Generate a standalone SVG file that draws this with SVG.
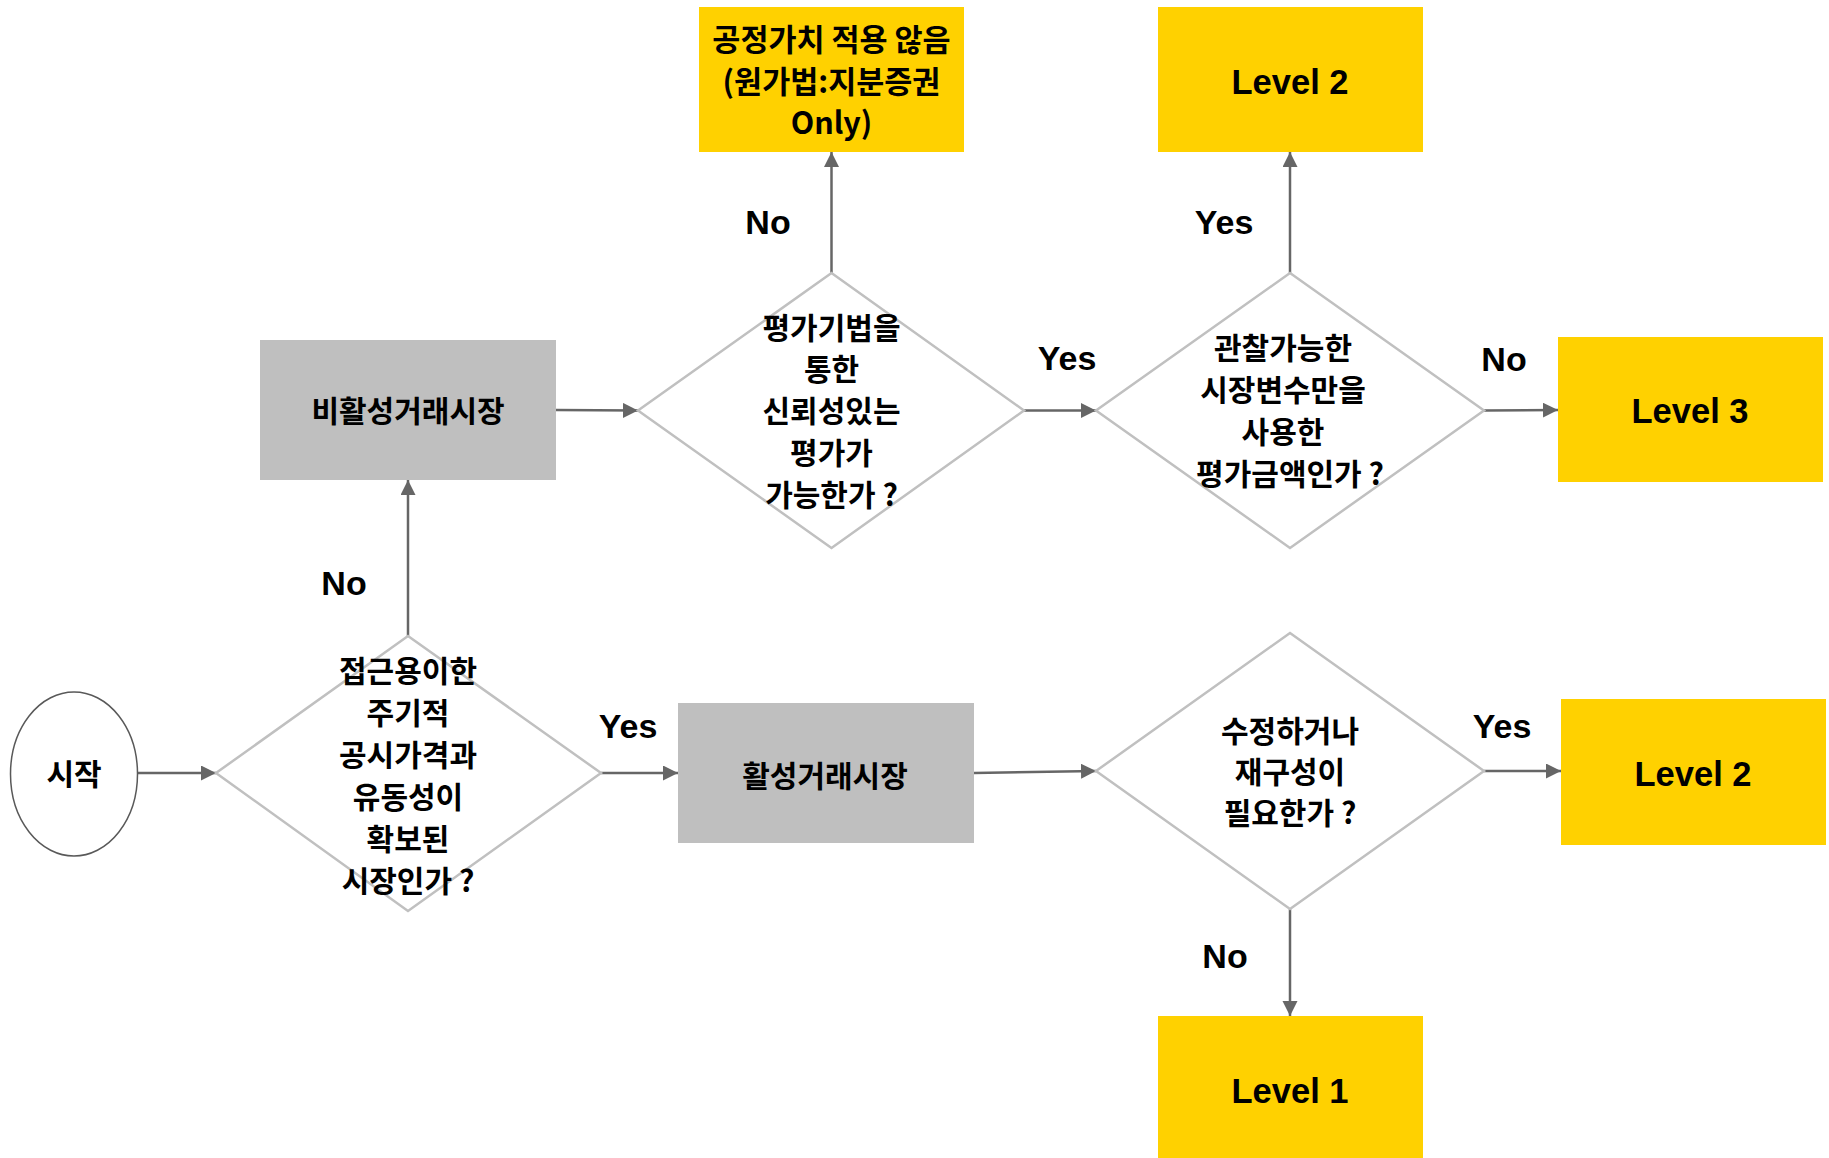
<svg xmlns="http://www.w3.org/2000/svg" width="1829" height="1158" viewBox="0 0 1829 1158">
<style>
.dia{fill:#fff;stroke:#c0c0c0;stroke-width:2.5}
.gray{fill:#bfbfbf}
.yel{fill:#ffd100}
.t{font-family:"Noto Sans CJK KR","Liberation Sans",sans-serif;font-size:30px;font-weight:700;fill:#000;text-anchor:middle}
.tb{font-family:"Noto Sans CJK KR","Liberation Sans",sans-serif;font-size:30.5px;font-weight:700;fill:#000;text-anchor:middle}
.lv{font-family:"Liberation Sans",Arial,sans-serif;font-size:34.5px;font-weight:700;fill:#000;text-anchor:middle}
.lb{font-family:"Liberation Sans",Arial,sans-serif;font-size:34px;font-weight:700;fill:#000;text-anchor:middle}
.c{fill:none;stroke:#666;stroke-width:2.5;marker-end:url(#ah)}
</style>
<defs>
<marker id="ah" markerUnits="userSpaceOnUse" markerWidth="17" markerHeight="16" refX="15" refY="7.5" orient="auto">
<path d="M0,0 L15,7.5 L0,15 z" fill="#666"/>
</marker>
</defs>
<rect width="1829" height="1158" fill="#fff"/>
<g id="connectors">
<line class="c" x1="137" y1="773" x2="216" y2="773"/>
<line class="c" x1="601" y1="773" x2="678" y2="773"/>
<line class="c" x1="408" y1="636" x2="408" y2="480"/>
<line class="c" x1="556" y1="410" x2="638" y2="410.5"/>
<line class="c" x1="831.5" y1="273" x2="831.5" y2="152"/>
<line class="c" x1="1024" y1="410.5" x2="1096" y2="410.5"/>
<line class="c" x1="1290" y1="273" x2="1290" y2="152"/>
<line class="c" x1="1484" y1="410.5" x2="1558" y2="410"/>
<line class="c" x1="974" y1="773" x2="1096" y2="771"/>
<line class="c" x1="1484" y1="771" x2="1561" y2="771"/>
<line class="c" x1="1290" y1="909" x2="1290" y2="1016"/>
</g>
<g id="start">
<ellipse cx="74" cy="774" rx="63.5" ry="82" fill="#fff" stroke="#595959" stroke-width="1.5"/>
<text class="t" x="74" y="785">시작</text>
</g>
<g id="q1">
<polygon class="dia" points="408,636 601,773 408,911 216,773"/>
<text class="t" x="408" y="682">접근용이한</text>
<text class="t" x="408" y="724">주기적</text>
<text class="t" x="408" y="766">공시가격과</text>
<text class="t" x="408" y="808">유동성이</text>
<text class="t" x="408" y="850">확보된</text>
<text class="t" x="408" y="892">시장인가 ?</text>
</g>
<g id="active">
<rect class="gray" x="678" y="703" width="296" height="140"/>
<text class="t" x="825" y="787">활성거래시장</text>
</g>
<g id="inactive">
<rect class="gray" x="260" y="340" width="296" height="140"/>
<text class="t" x="408" y="422">비활성거래시장</text>
</g>
<g id="q2">
<polygon class="dia" points="831.5,273 1024,410.5 831.5,548 638,410.5"/>
<text class="t" x="831.5" y="339">평가기법을</text>
<text class="t" x="831.5" y="380">통한</text>
<text class="t" x="831.5" y="422">신뢰성있는</text>
<text class="t" x="831.5" y="464">평가가</text>
<text class="t" x="831.5" y="506">가능한가 ?</text>
</g>
<g id="nofv">
<rect class="yel" x="699" y="7" width="265" height="145"/>
<text class="tb" x="831.5" y="51">공정가치 적용 않음</text>
<text class="tb" x="831.5" y="93">(원가법:지분증권</text>
<text class="tb" x="831.5" y="134">Only)</text>
</g>
<g id="q4">
<polygon class="dia" points="1290,273 1484,410.5 1290,548 1096,410.5"/>
<text class="t" x="1283" y="359">관찰가능한</text>
<text class="t" x="1283" y="401">시장변수만을</text>
<text class="t" x="1283" y="443">사용한</text>
<text class="t" x="1290" y="485">평가금액인가 ?</text>
</g>
<g id="level2top">
<rect class="yel" x="1158" y="7" width="265" height="145"/>
<text class="lv" x="1290" y="94">Level 2</text>
</g>
<g id="level3">
<rect class="yel" x="1558" y="337" width="265" height="145"/>
<text class="lv" x="1690" y="423">Level 3</text>
</g>
<g id="q3">
<polygon class="dia" points="1290,633 1484,771 1290,909 1096,771"/>
<text class="t" x="1290" y="742">수정하거나</text>
<text class="t" x="1290" y="783">재구성이</text>
<text class="t" x="1290" y="824">필요한가 ?</text>
</g>
<g id="level2bottom">
<rect class="yel" x="1561" y="699" width="265" height="146"/>
<text class="lv" x="1693" y="786">Level 2</text>
</g>
<g id="level1">
<rect class="yel" x="1158" y="1016" width="265" height="142"/>
<text class="lv" x="1290" y="1103">Level 1</text>
</g>
<g id="labels">
<text class="lb" x="344" y="595">No</text>
<text class="lb" x="628" y="738">Yes</text>
<text class="lb" x="768" y="234">No</text>
<text class="lb" x="1067" y="370">Yes</text>
<text class="lb" x="1224" y="234">Yes</text>
<text class="lb" x="1504" y="371">No</text>
<text class="lb" x="1502" y="738">Yes</text>
<text class="lb" x="1225" y="968">No</text>
</g>
</svg>
